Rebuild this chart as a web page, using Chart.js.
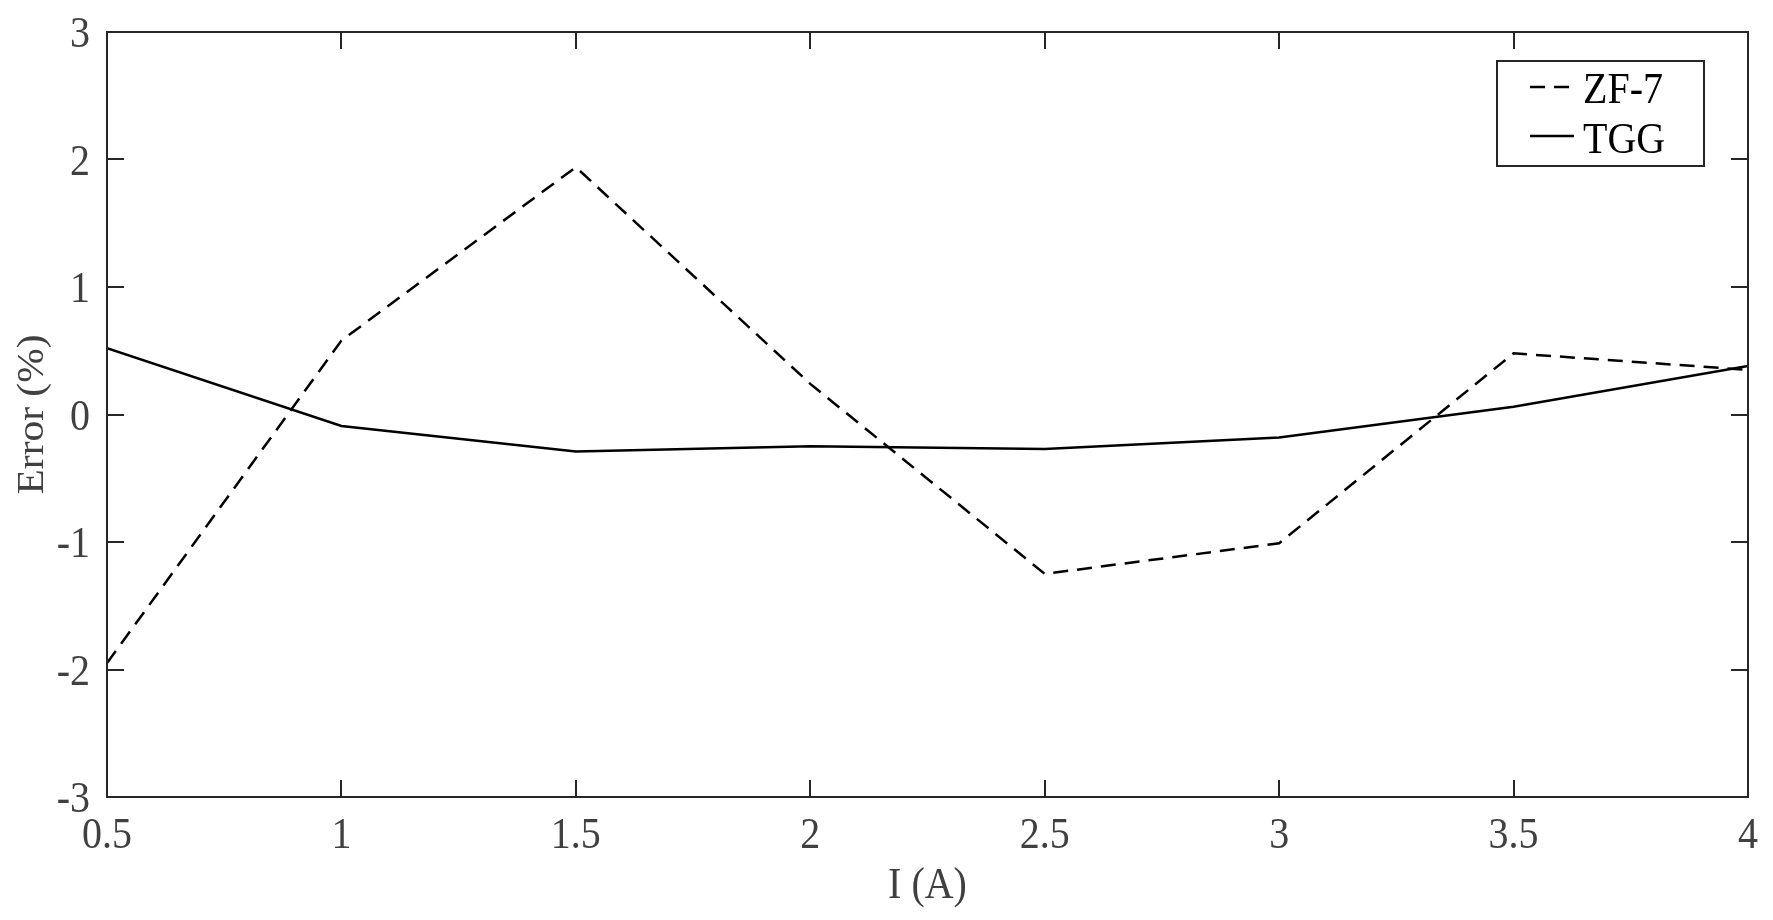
<!DOCTYPE html>
<html>
<head>
<meta charset="utf-8">
<script src="https://cdn.jsdelivr.net/npm/chart.js@4/dist/chart.umd.min.js"></script>
<style>
html,body{margin:0;padding:0;background:#fff;}
canvas{display:block;}
</style>
</head>
<body>
<canvas id="c" width="1773" height="920"></canvas>
<script>
// Data
const currents = [0.5, 1, 1.5, 2, 2.5, 3, 3.5, 4];
const zf7Error = [-1.95, 0.58, 1.94, 0.24, -1.25, -1.01, 0.48, 0.35];
const tggError = [0.52, -0.09, -0.29, -0.25, -0.27, -0.18, 0.06, 0.38];
const seriesLabels = ['ZF-7', 'TGG'];
const xTicks = [0.5, 1, 1.5, 2, 2.5, 3, 3.5, 4];
const yTicks = [-3, -2, -1, 0, 1, 2, 3];
const xTitle = 'I (A)';
const yTitle = 'Error (%)';

const FONT = '"Liberation Serif", "Times New Roman", serif';
const AXIS_COLOR = '#262626';
const TEXT_COLOR = '#404040';
const STRETCH = 1.12;

const toPoints = (xs, ys) => xs.map((x, i) => ({x: x, y: ys[i]}));

function stretchedText(ctx, text, x, y, opts) {
  ctx.save();
  ctx.translate(x, y);
  if (opts.rotate) ctx.rotate(opts.rotate);
  ctx.scale(opts.sx || 1, opts.sy || 1);
  ctx.font = opts.size + 'px ' + FONT;
  ctx.fillStyle = opts.color;
  ctx.textAlign = opts.align || 'left';
  ctx.textBaseline = 'alphabetic';
  ctx.fillText(text, 0, 0);
  ctx.restore();
}

const boxAndTicks = {
  id: 'boxAndTicks',
  afterDraw(chart) {
    const ctx = chart.ctx;
    const a = chart.chartArea;
    const xs = chart.scales.x, ys = chart.scales.y;
    const tl = 17;
    ctx.save();
    ctx.strokeStyle = AXIS_COLOR;
    ctx.lineWidth = 2;
    ctx.beginPath();
    xTicks.forEach(v => {
      const px = Math.round(xs.getPixelForValue(v));
      ctx.moveTo(px, a.bottom); ctx.lineTo(px, a.bottom - tl);
      ctx.moveTo(px, a.top); ctx.lineTo(px, a.top + tl);
    });
    yTicks.forEach(v => {
      const py = Math.round(ys.getPixelForValue(v));
      ctx.moveTo(a.left, py); ctx.lineTo(a.left + tl, py);
      ctx.moveTo(a.right, py); ctx.lineTo(a.right - tl, py);
    });
    ctx.stroke();
    ctx.strokeRect(a.left, a.top, a.right - a.left, a.bottom - a.top);

    // tick labels
    xTicks.forEach(v => {
      stretchedText(ctx, String(v), xs.getPixelForValue(v), a.bottom + 51,
        {size: 40, sy: STRETCH, color: TEXT_COLOR, align: 'center'});
    });
    yTicks.forEach(v => {
      stretchedText(ctx, String(v), a.left - 17, ys.getPixelForValue(v) + 15,
        {size: 40, sy: STRETCH, color: TEXT_COLOR, align: 'right'});
    });
    // axis titles
    stretchedText(ctx, xTitle, (a.left + a.right) / 2, 898,
      {size: 40, sy: STRETCH, color: TEXT_COLOR, align: 'center'});
    stretchedText(ctx, yTitle, 43, (a.top + a.bottom) / 2,
      {size: 37, sx: STRETCH, rotate: -Math.PI / 2, color: TEXT_COLOR, align: 'center'});

    // legend box
    const lx = 1497, ly = 61, lw = 207, lh = 105;
    ctx.fillStyle = '#fff';
    ctx.fillRect(lx, ly, lw, lh);
    ctx.strokeRect(lx, ly, lw, lh);
    const rows = [87, 136];
    const baselines = [103, 153];
    chart.data.datasets.forEach((ds, i) => {
      ctx.save();
      ctx.strokeStyle = ds.borderColor;
      ctx.lineWidth = ds.borderWidth;
      ctx.setLineDash(ds.borderDash || []);
      ctx.beginPath();
      ctx.moveTo(1530, rows[i]);
      ctx.lineTo(1574, rows[i]);
      ctx.stroke();
      ctx.restore();
      stretchedText(ctx, ds.label, 1583, baselines[i],
        {size: 40, sy: STRETCH, color: '#000', align: 'left'});
    });
    ctx.restore();
  }
};

new Chart(document.getElementById('c'), {
  type: 'line',
  data: {
    datasets: [
      {
        label: seriesLabels[0],
        data: toPoints(currents, zf7Error),
        borderColor: '#000',
        borderWidth: 2.5,
        borderDash: [15, 9],
        pointRadius: 0,
        tension: 0,
        fill: false
      },
      {
        label: seriesLabels[1],
        data: toPoints(currents, tggError),
        borderColor: '#000',
        borderWidth: 2.5,
        pointRadius: 0,
        tension: 0,
        fill: false
      }
    ]
  },
  options: {
    responsive: false,
    animation: false,
    devicePixelRatio: 1,
    layout: {padding: {left: 0, top: 32, right: 25, bottom: 0}},
    plugins: {legend: {display: false}, tooltip: {enabled: false}},
    scales: {
      x: {
        type: 'linear',
        min: 0.5, max: 4,
        afterBuildTicks(scale) { scale.ticks = xTicks.map(v => ({value: v})); },
        afterFit(scale) { scale.height = 123; },
        ticks: {display: false},
        grid: {display: true, drawOnChartArea: false, drawTicks: false},
        border: {display: true, color: AXIS_COLOR, width: 2},
        title: {display: false}
      },
      y: {
        type: 'linear',
        min: -3, max: 3,
        afterBuildTicks(scale) { scale.ticks = yTicks.map(v => ({value: v})); },
        afterFit(scale) { scale.width = 107; },
        ticks: {display: false},
        grid: {display: true, drawOnChartArea: false, drawTicks: false},
        border: {display: true, color: AXIS_COLOR, width: 2},
        title: {display: false}
      }
    }
  },
  plugins: [boxAndTicks]
});
</script>
</body>
</html>
